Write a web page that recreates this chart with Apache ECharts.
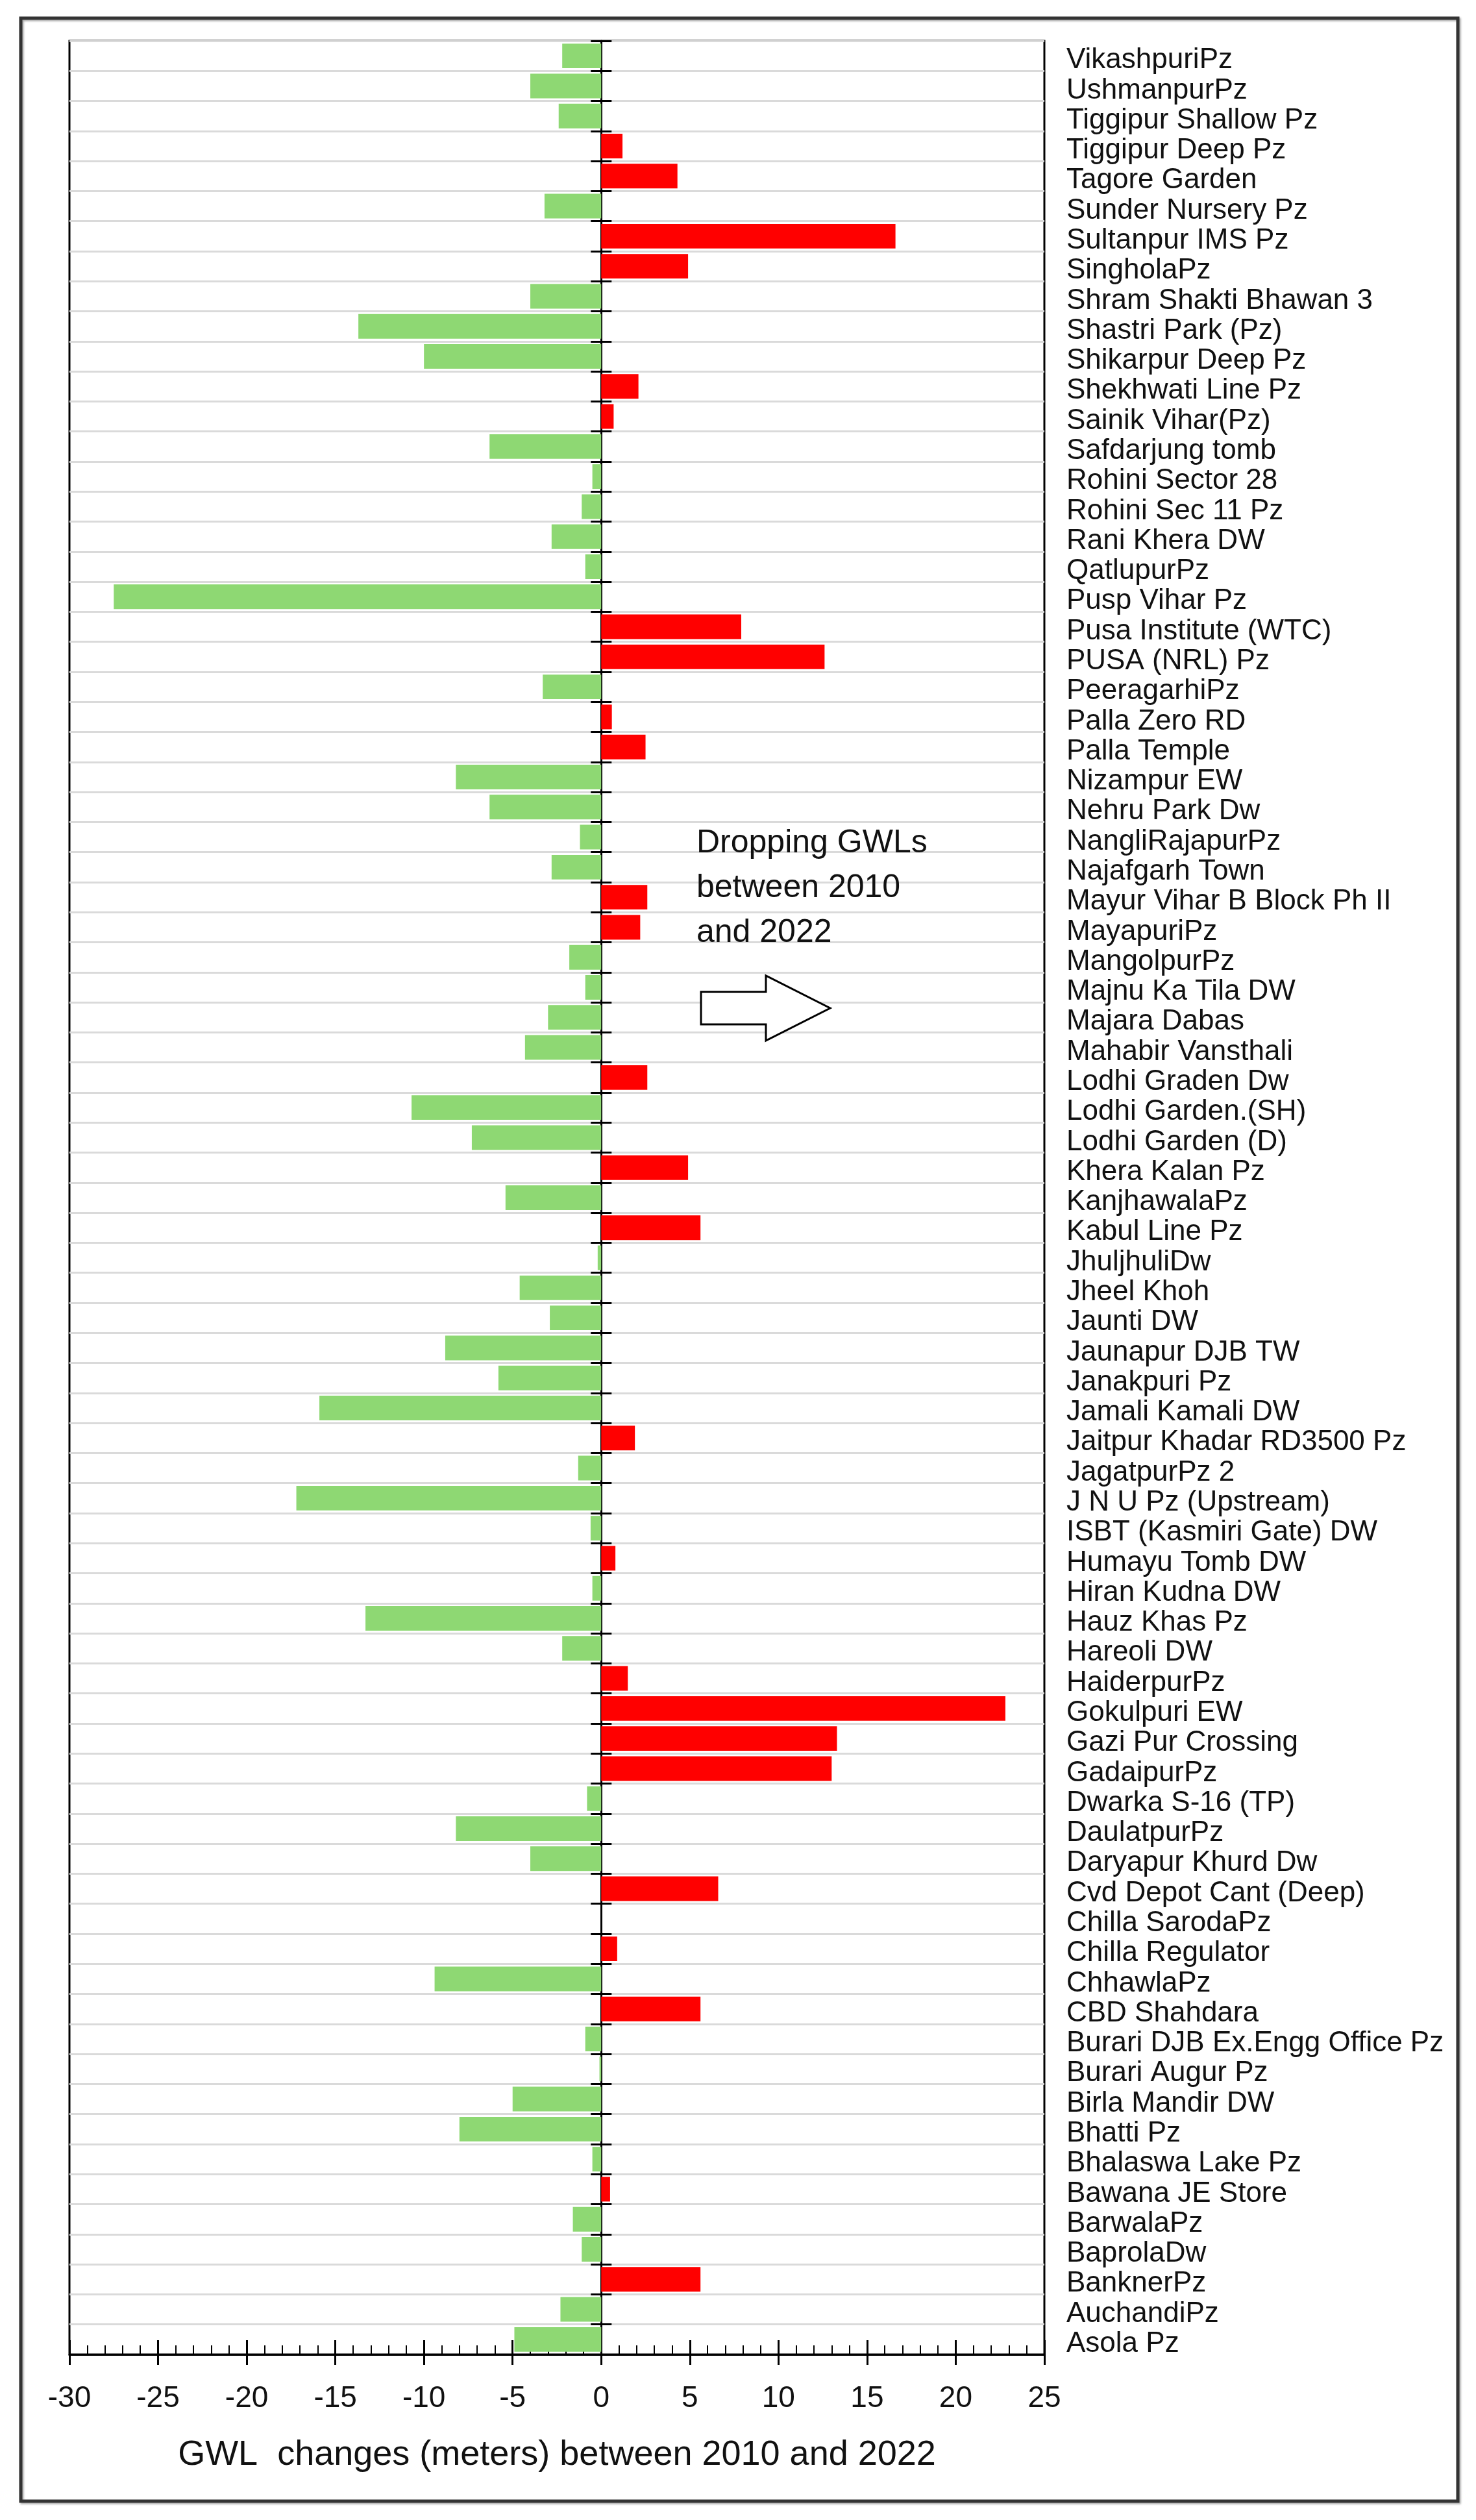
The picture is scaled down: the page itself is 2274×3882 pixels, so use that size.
<!DOCTYPE html>
<html>
<head>
<meta charset="utf-8">
<script src="https://cdn.jsdelivr.net/npm/echarts@6/dist/echarts.min.js"></script>
<style>
html,body{margin:0;padding:0;background:#fff;}
#chart{width:2274px;height:3882px;}
</style>
</head>
<body>
<div id="chart"></div>
<script>
// Monitoring stations (top to bottom)
const stations = [
  "VikashpuriPz","UshmanpurPz","Tiggipur Shallow Pz","Tiggipur Deep Pz","Tagore Garden",
  "Sunder Nursery Pz","Sultanpur IMS Pz","SingholaPz","Shram Shakti Bhawan 3","Shastri Park (Pz)",
  "Shikarpur Deep Pz","Shekhwati Line Pz","Sainik Vihar(Pz)","Safdarjung tomb","Rohini Sector 28",
  "Rohini Sec 11 Pz","Rani Khera DW","QatlupurPz","Pusp Vihar Pz","Pusa Institute (WTC)",
  "PUSA (NRL) Pz","PeeragarhiPz","Palla Zero RD","Palla Temple","Nizampur EW",
  "Nehru Park Dw","NangliRajapurPz","Najafgarh Town","Mayur Vihar B Block Ph II","MayapuriPz",
  "MangolpurPz","Majnu Ka Tila DW","Majara Dabas","Mahabir Vansthali","Lodhi Graden Dw",
  "Lodhi Garden.(SH)","Lodhi Garden (D)","Khera Kalan Pz","KanjhawalaPz","Kabul Line Pz",
  "JhuljhuliDw","Jheel Khoh","Jaunti DW","Jaunapur DJB TW","Janakpuri Pz",
  "Jamali Kamali DW","Jaitpur Khadar RD3500 Pz","JagatpurPz 2","J N U Pz (Upstream)","ISBT (Kasmiri Gate) DW",
  "Humayu Tomb DW","Hiran Kudna DW","Hauz Khas Pz","Hareoli DW","HaiderpurPz",
  "Gokulpuri EW","Gazi Pur Crossing","GadaipurPz","Dwarka S-16 (TP)","DaulatpurPz",
  "Daryapur Khurd Dw","Cvd Depot Cant (Deep)","Chilla SarodaPz","Chilla Regulator","ChhawlaPz",
  "CBD Shahdara","Burari DJB Ex.Engg Office Pz","Burari Augur Pz","Birla Mandir DW","Bhatti Pz",
  "Bhalaswa Lake Pz","Bawana JE Store","BarwalaPz","BaprolaDw","BanknerPz",
  "AuchandiPz","Asola Pz"
];

// GWL change (m) between 2010 and 2022, same order as stations
const gwlChange = [
  -2.2, -4.0, -2.4, 1.2, 4.3,
  -3.2, 16.6, 4.9, -4.0, -13.7,
  -10.0, 2.1, 0.7, -6.3, -0.5,
  -1.1, -2.8, -0.9, -27.5, 7.9,
  12.6, -3.3, 0.6, 2.5, -8.2,
  -6.3, -1.2, -2.8, 2.6, 2.2,
  -1.8, -0.9, -3.0, -4.3, 2.6,
  -10.7, -7.3, 4.9, -5.4, 5.6,
  -0.2, -4.6, -2.9, -8.8, -5.8,
  -15.9, 1.9, -1.3, -17.2, -0.6,
  0.8, -0.5, -13.3, -2.2, 1.5,
  22.8, 13.3, 13.0, -0.8, -8.2,
  -4.0, 6.6, 0, 0.9, -9.4,
  5.6, -0.9, -0.1, -5.0, -8.0,
  -0.5, 0.5, -1.6, -1.1, 5.6,
  -2.3, -4.9
];

const xTicks = { min: -30, max: 25, step: 5 };
const axisTitle = "GWL  changes (meters) between 2010 and 2022";
const noteLines = ["Dropping GWLs", "between 2010", "and 2022"];

const FONT = "'Liberation Sans', Arial, sans-serif";
const GREEN = "#8ED873";
const RED = "#FF0000";

const chart = echarts.init(document.getElementById('chart'), null, { renderer: 'canvas' });

const option = {
  backgroundColor: '#ffffff',
  animation: false,
  grid: {
    left: 107, right: 665, top: 63, bottom: 3882 - 3627,
    show: true, borderColor: '#000', borderWidth: 3, backgroundColor: 'transparent',
    containLabel: false, outerBoundsMode: 'none'
  },
  xAxis: [
    {
      type: 'value', position: 'bottom',
      min: xTicks.min, max: xTicks.max, interval: xTicks.step,
      axisLine: { show: true, onZero: false, lineStyle: { color: '#000', width: 3 } },
      axisTick: { show: true, inside: false, length: 16, lineStyle: { color: '#000', width: 3 } },
      axisLabel: { show: true, fontSize: 46, color: '#111', fontFamily: FONT, margin: 45 },
      splitLine: { show: false },
      name: axisTitle, nameLocation: 'middle', nameGap: 128,
      nameTextStyle: { fontSize: 54, color: '#111', fontFamily: FONT }
    },
    {
      type: 'value', position: 'bottom',
      min: xTicks.min, max: xTicks.max, interval: xTicks.step,
      axisLine: { show: false, onZero: false },
      axisTick: { show: true, inside: true, length: 22, lineStyle: { color: '#000', width: 3 } },
      minorTick: { show: true, splitNumber: 5, length: 14, lineStyle: { color: '#000', width: 2 } },
      axisLabel: { show: false },
      splitLine: { show: false }
    }
  ],
  yAxis: [
    {
      type: 'category', data: stations, inverse: true, position: 'right',
      axisLine: { show: false, onZero: false },
      axisTick: { show: false },
      axisLabel: {
        show: true, interval: 0, margin: 34, align: 'left',
        formatter: function (v) { return '{s|' + v + '}'; },
        rich: { s: { fontSize: 44, color: '#111', fontFamily: FONT, padding: [14, 0, 0, 0] } }
      },
      splitLine: { show: true, interval: 0, lineStyle: { color: '#dadada', width: 3 } }
    },
    {
      type: 'category', data: stations, inverse: true, position: 'left',
      axisLine: { show: true, onZero: true, onZeroAxisIndex: 0, lineStyle: { color: '#000', width: 3 } },
      axisTick: { show: true, interval: 0, inside: false, length: 16, lineStyle: { color: '#000', width: 3 } },
      axisLabel: { show: false },
      splitLine: { show: false }
    },
    {
      type: 'category', data: stations, inverse: true, position: 'left',
      axisLine: { show: false, onZero: true, onZeroAxisIndex: 1 },
      axisTick: { show: true, interval: 0, inside: true, length: 16, lineStyle: { color: '#000', width: 3 } },
      axisLabel: { show: false },
      splitLine: { show: false }
    }
  ],
  series: [
    {
      type: 'bar',
      xAxisIndex: 0, yAxisIndex: 0,
      data: gwlChange,
      barCategoryGap: '18%',
      z: 1,
      itemStyle: {
        color: function (p) { return p.value < 0 ? GREEN : RED; }
      }
    }
  ],
  graphic: [
    {
      type: 'rect', silent: true, z: 100,
      shape: { x: 32, y: 28, width: 2214, height: 3825 },
      style: { fill: 'none', stroke: '#333', lineWidth: 5, shadowColor: 'rgba(0,0,0,0.35)', shadowBlur: 3, shadowOffsetX: 2, shadowOffsetY: 2 }
    },
    {
      type: 'text', silent: true, z: 100,
      left: 1073, top: 1265,
      style: { text: noteLines.join('\n'), fontSize: 50, lineHeight: 69, fill: '#111', fontFamily: FONT }
    },
    {
      type: 'polygon', silent: true, z: 100,
      shape: { points: [[1080,1528],[1180,1528],[1180,1503],[1279,1553],[1180,1603],[1180,1578],[1080,1578]] },
      style: { fill: '#fff', stroke: '#000', lineWidth: 3 }
    }
  ]
};

chart.setOption(option);
</script>
</body>
</html>
